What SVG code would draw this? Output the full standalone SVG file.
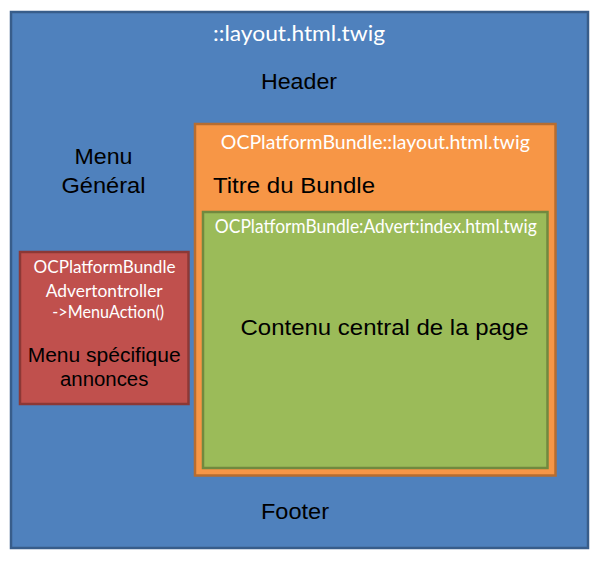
<svg xmlns="http://www.w3.org/2000/svg" width="603" height="561" viewBox="0 0 603 561">
<style>
.w{font-family:Lato,"Open Sans","Liberation Sans",sans-serif;fill:#ffffff;text-anchor:middle}
.b{font-family:"Liberation Sans",Arial,sans-serif;fill:#000000;text-anchor:middle}
</style>
<rect width="603" height="561" fill="#ffffff"/>
<g id="layout">
<rect x="11" y="12" width="577" height="536" fill="#4F81BD" stroke="#385D8A" stroke-width="2.5"/>
<text class="w" x="299" y="40.5" font-size="20.5" textLength="172" lengthAdjust="spacingAndGlyphs">::layout.html.twig</text>
<text class="b" x="299" y="89" font-size="22" textLength="76" lengthAdjust="spacingAndGlyphs">Header</text>
<text class="b" x="103.5" y="164" font-size="22" textLength="58" lengthAdjust="spacingAndGlyphs">Menu</text>
<text class="b" x="103.5" y="192.5" font-size="22" textLength="84" lengthAdjust="spacingAndGlyphs">Général</text>
<text class="b" x="295" y="519" font-size="22" textLength="68" lengthAdjust="spacingAndGlyphs">Footer</text>
</g>
<g id="bundle-layout">
<rect x="195" y="124" width="360.5" height="351.5" fill="#F79646" stroke="#B66D31" stroke-width="2.5"/>
<text class="w" x="375.3" y="149" font-size="19" textLength="309" lengthAdjust="spacingAndGlyphs">OCPlatformBundle::layout.html.twig</text>
<text class="b" x="294" y="192.5" font-size="22.5" textLength="162" lengthAdjust="spacingAndGlyphs">Titre du Bundle</text>
</g>
<g id="advert-index">
<rect x="203" y="212" width="344.5" height="256" fill="#9BBB59" stroke="#71893F" stroke-width="2.5"/>
<text class="w" x="375.8" y="233" font-size="18.5" textLength="322" lengthAdjust="spacingAndGlyphs">OCPlatformBundle:Advert:index.html.twig</text>
<text class="b" x="384.5" y="335" font-size="22.5" textLength="288" lengthAdjust="spacingAndGlyphs">Contenu central de la page</text>
</g>
<g id="menu-action">
<rect x="20" y="252" width="168.5" height="152" fill="#C0504D" stroke="#8C3836" stroke-width="2.5"/>
<text class="w" x="104.5" y="273.3" font-size="18" textLength="142" lengthAdjust="spacingAndGlyphs">OCPlatformBundle</text>
<text class="w" x="104.2" y="296.7" font-size="18" textLength="117" lengthAdjust="spacingAndGlyphs">Advertontroller</text>
<text class="w" x="108.2" y="318" font-size="18" textLength="111.7" lengthAdjust="spacingAndGlyphs">-&gt;MenuAction()</text>
<text class="b" x="104.2" y="361.7" font-size="20" textLength="153" lengthAdjust="spacingAndGlyphs">Menu spécifique</text>
<text class="b" x="104.2" y="385.5" font-size="20" textLength="88.3" lengthAdjust="spacingAndGlyphs">annonces</text>
</g>
<g id="connectors"></g>
</svg>
